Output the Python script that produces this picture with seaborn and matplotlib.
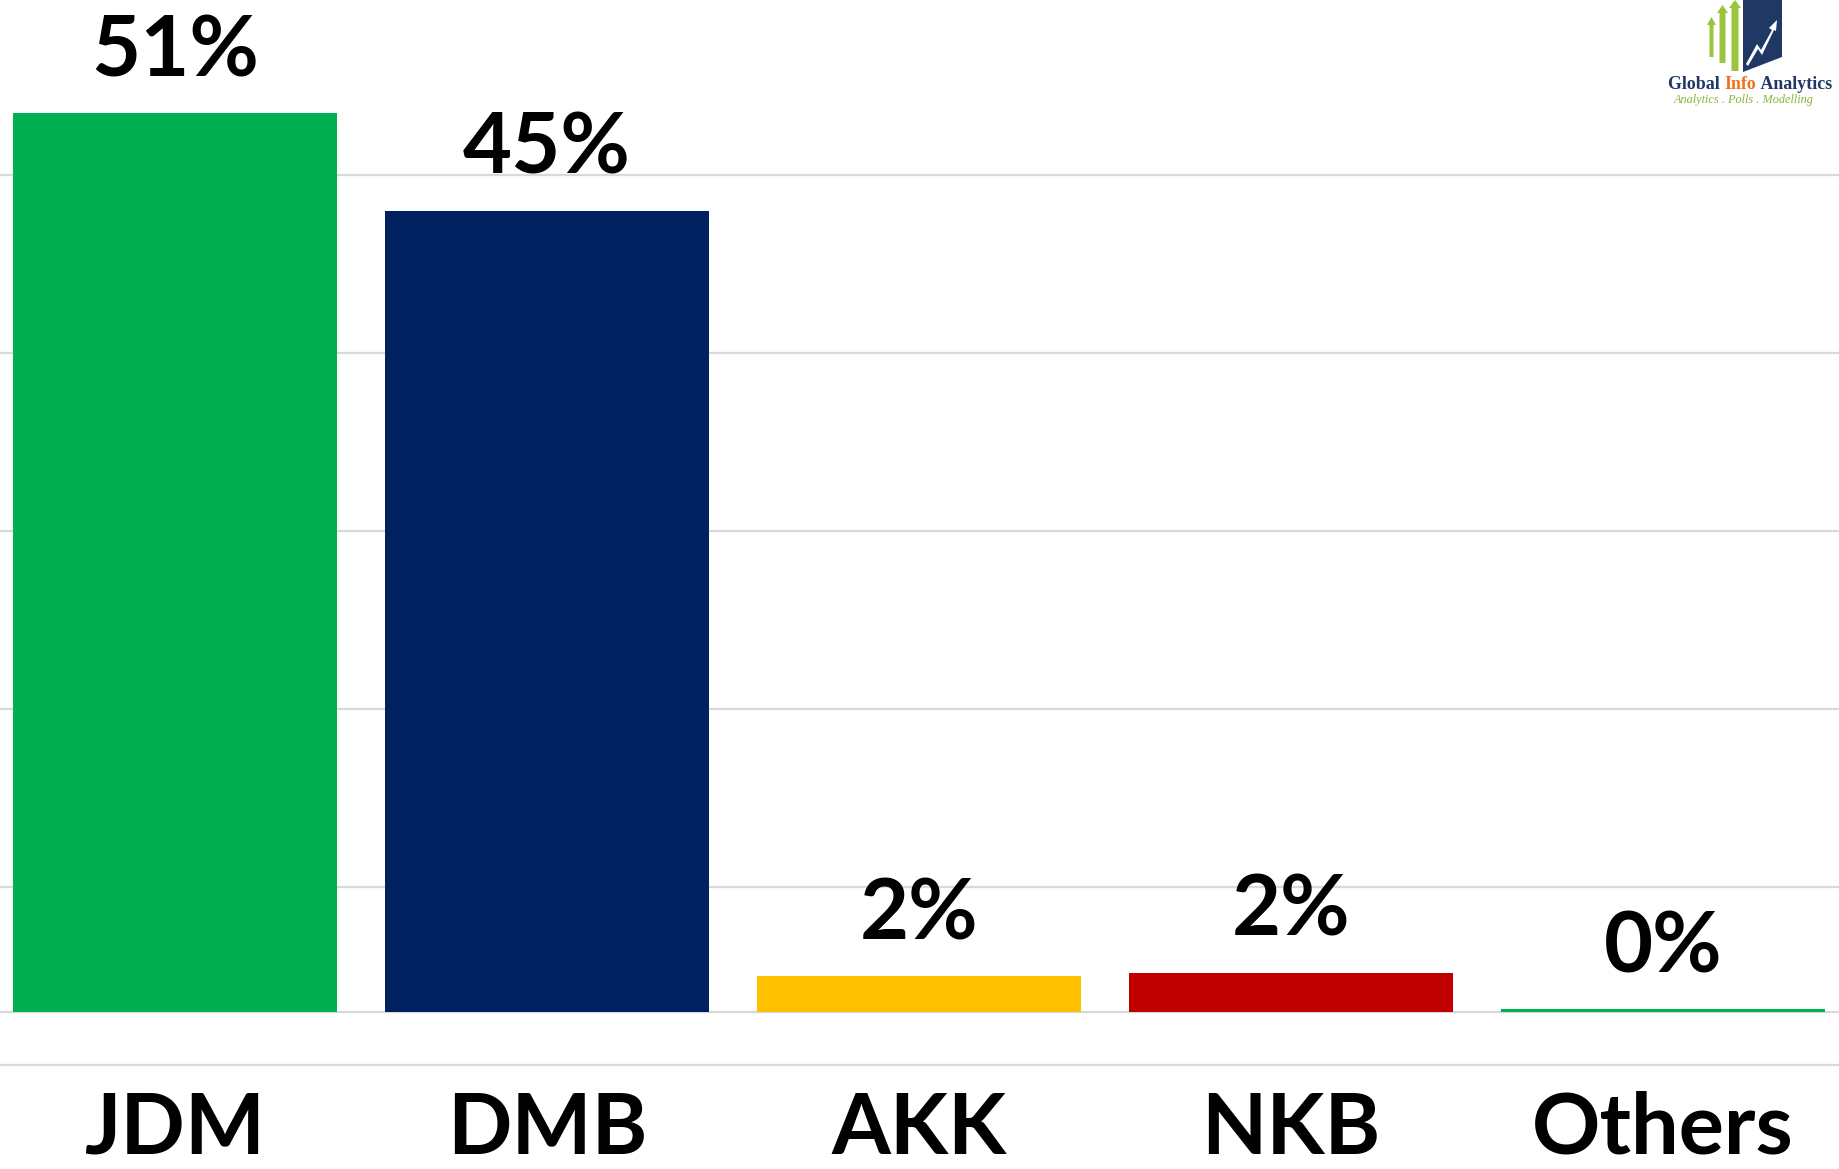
import numpy as np
import pandas as pd
import matplotlib
matplotlib.use("Agg")
import matplotlib.pyplot as plt
from matplotlib.patches import Polygon
import seaborn as sns

# ---- data ----
categories = ["JDM", "DMB", "AKK", "NKB", "Others"]
values = [50.5, 45.0, 2.0, 2.2, 0.15]
labels = ["51%", "45%", "2%", "2%", "0%"]
colors = ["#00B050", "#002060", "#FFC000", "#C00000", "#00B050"]
grid_values = [-3, 7, 17, 27, 37, 47]

sns.set_theme(style="white")
plt.rcParams["font.family"] = ["Lato", "DejaVu Sans"]

W, H, DPI = 1839, 1169, 100
fig = plt.figure(figsize=(W / DPI, H / DPI), dpi=DPI)
ax = fig.add_axes([0, 0, 1, 1])

df = pd.DataFrame({"cat": categories, "val": values})
sns.barplot(data=df, x="cat", y="val", hue="cat", palette=colors,
            legend=False, width=0.871, saturation=1, ax=ax, zorder=3,
            linewidth=0)

# scales: pixel mapping estimated from reference
px_per_unit = 17.8
base_px = 1012
ax.set_ylim((base_px - H) / px_per_unit, base_px / px_per_unit)
pitch = 372.0
ax.set_xlim(-0.5 + 11 / pitch, -0.5 + (W + 11) / pitch)

for g in grid_values + [0]:
    ax.axhline(g, color="#D9D9D9", lw=1.6, zorder=1)

for s in ax.spines.values():
    s.set_visible(False)
ax.set_xticks([])
ax.set_yticks([])
ax.set_xlabel("")
ax.set_ylabel("")

# value labels
off_pt = 37 * 72 / DPI
for i, (v, lab) in enumerate(zip(values, labels)):
    ax.annotate(lab, (i, v), xytext=(0, off_pt), textcoords="offset points",
                ha="center", va="baseline", fontsize=61, fontweight="bold",
                color="black", zorder=5)

# category labels
cat_y = (base_px - 1168) / px_per_unit
for i, c in enumerate(categories):
    ax.text(i, cat_y, c, ha="center", va="bottom", fontsize=61,
            fontweight="bold", color="black", zorder=5)

# ---- logo (decoration) ----
def fpoly(pts, color):
    pts = [(x / W, 1 - y / H) for x, y in pts]
    fig.patches.append(Polygon(pts, closed=True, transform=fig.transFigure,
                               facecolor=color, edgecolor="none", zorder=10))

lg = "#9BC53D"
for x0, x1, top, bot in [(1708, 1715, 17, 57), (1718, 1727, 5, 63), (1730, 1740, 0, 71)]:
    cx = (x0 + x1) / 2
    fpoly([(x0 + 1.5, bot), (x1 - 1.5, bot), (x1 - 1.5, top + 8), (x1 + 1, top + 8),
           (cx, top), (x0 - 1, top + 8), (x0 + 1.5, top + 8)], lg)
fpoly([(1743, 0), (1782, 0), (1782, 57), (1743, 72)], "#1F3864")
fpoly([(1746, 64), (1757, 44), (1761, 50), (1772, 30), (1769, 28), (1777, 20),
       (1776, 31), (1774, 30), (1762, 55), (1758, 49), (1748, 66)], "white")

# logo text laid out piece by piece
renderer = fig.canvas.get_renderer()
pieces = [("Global ", "#1F3864"), ("Info", "#F07020"), (" Analytics", "#1F3864")]
fs = 11.5
tmp = [fig.text(0, 0, t, fontsize=fs, fontweight="bold", family="Liberation Serif")
       for t, _ in pieces]
widths = [t.get_window_extent(renderer).width for t in tmp]
for t in tmp:
    t.remove()
total = sum(widths)
target = 1832 - 1668
fs = fs * target / total
widths = [w * target / total for w in widths]
x = 1668
for (t, col), w in zip(pieces, widths):
    fig.text(x / W, 1 - 89 / H, t, ha="left", va="baseline", fontsize=fs,
             fontweight="bold", family="Liberation Serif", color=col)
    x += w
fig.text(1744 / W, 1 - 103 / H, "Analytics . Polls . Modelling", ha="center",
         va="baseline", fontsize=8.8, style="italic", family="Liberation Serif",
         color="#8DB33A")

fig.savefig("out.png", dpi=DPI)
